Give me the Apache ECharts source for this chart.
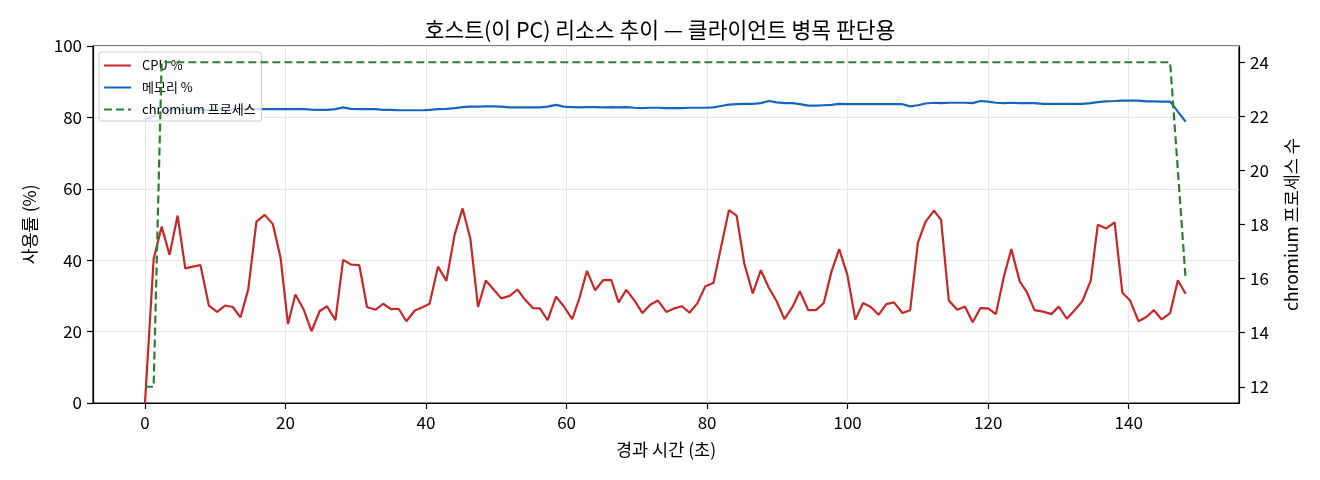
<!DOCTYPE html>
<html>
<head>
<meta charset="utf-8">
<script src="https://cdn.jsdelivr.net/npm/echarts@6/dist/echarts.min.js"></script>
<style>
  html, body { margin: 0; padding: 0; background: #fff; }
  #chart { width: 1320px; height: 480px; }
</style>
</head>
<body>
<div id="chart"></div>
<script>
// ---- data ----
const chartTitle = '호스트(이 PC) 리소스 추이 — 클라이언트 병목 판단용';
const xAxisName = '경과 시간 (초)';
const yLeftName = '사용률 (%)';
const yRightName = 'chromium 프로세스 수';
const seriesNames = ['CPU %', '메모리 %', 'chromium 프로세스'];

const xTicks = [0, 20, 40, 60, 80, 100, 120, 140];
const yLeftTicks = [0, 20, 40, 60, 80, 100];
const yRightTicks = [12, 14, 16, 18, 20, 22, 24];

const timeSec = [
  0.00, 1.23, 2.37, 3.50, 4.64, 5.73, 6.80, 7.90, 9.09, 10.27,
  11.40, 12.50, 13.60, 14.70, 15.86, 17.04, 18.20, 19.30, 20.35, 21.40,
  22.60, 23.70, 24.85, 25.90, 27.10, 28.20, 29.30, 30.50, 31.60, 32.80,
  33.90, 35.00, 36.10, 37.20, 38.40, 39.50, 40.50, 41.70, 42.90, 44.06,
  45.20, 46.30, 47.40, 48.50, 49.65, 50.70, 51.90, 53.00, 54.10, 55.20,
  56.20, 57.30, 58.50, 59.60, 60.80, 61.80, 62.90, 64.05, 65.20, 66.35,
  67.40, 68.50, 69.70, 70.80, 71.90, 73.00, 74.20, 75.30, 76.40, 77.50,
  78.60, 79.75, 80.90, 82.00, 83.10, 84.20, 85.30, 86.50, 87.65, 88.80,
  89.90, 91.00, 92.15, 93.20, 94.40, 95.50, 96.60, 97.70, 98.80, 99.96,
  101.10, 102.20, 103.30, 104.40, 105.50, 106.60, 107.80, 108.90, 110.00, 111.10,
  112.30, 113.30, 114.40, 115.60, 116.70, 117.80, 118.90, 120.00, 121.10, 122.25,
  123.30, 124.50, 125.50, 126.60, 127.80, 129.00, 130.05, 131.20, 132.30, 133.40,
  134.60, 135.60, 136.80, 138.00, 139.10, 140.20, 141.40, 142.50, 143.60, 144.70,
  145.90, 147.00, 148.10
];

const cpuPct = [
  0.0, 40.3, 49.4, 41.5, 52.5, 37.7, 38.2, 38.6, 27.3, 25.5,
  27.3, 26.9, 24.0, 31.9, 50.8, 52.7, 50.1, 40.6, 22.1, 30.4,
  26.1, 20.1, 25.7, 27.1, 23.2, 40.1, 38.8, 38.6, 26.9, 26.1,
  27.8, 26.3, 26.4, 22.9, 25.9, 26.8, 27.8, 38.2, 34.2, 47.1,
  54.5, 46.1, 26.9, 34.3, 31.7, 29.3, 30.0, 31.8, 28.9, 26.6,
  26.5, 23.2, 29.8, 27.1, 23.5, 29.2, 37.0, 31.6, 34.4, 34.5,
  28.2, 31.7, 28.6, 25.2, 27.5, 28.7, 25.5, 26.5, 27.1, 25.3,
  27.9, 32.7, 33.6, 43.8, 54.0, 52.5, 39.0, 30.7, 37.2, 32.2,
  28.5, 23.5, 26.9, 31.3, 26.0, 26.0, 28.0, 36.8, 43.1, 35.9,
  23.4, 28.0, 26.9, 24.7, 27.7, 28.2, 25.2, 26.0, 44.9, 50.8,
  53.9, 51.3, 28.7, 26.1, 27.0, 22.6, 26.6, 26.5, 24.9, 35.5,
  43.1, 34.0, 31.1, 26.0, 25.6, 24.9, 27.0, 23.6, 26.0, 28.5,
  34.3, 49.9, 48.9, 50.6, 30.9, 28.7, 22.9, 24.1, 26.0, 23.4,
  25.2, 34.4, 30.6
];

const memPct = [
  79.4, 80.3, 81.8, 82.0, 82.1, 82.1, 82.0, 82.1, 82.1, 82.2,
  82.2, 82.3, 82.3, 82.3, 82.3, 82.3, 82.3, 82.3, 82.3, 82.3,
  82.3, 82.2, 82.1, 82.1, 82.3, 82.8, 82.4, 82.3, 82.3, 82.3,
  82.1, 82.1, 82.0, 82.0, 82.0, 82.0, 82.1, 82.3, 82.4, 82.6,
  82.9, 83.0, 83.0, 83.1, 83.1, 83.0, 82.8, 82.8, 82.8, 82.8,
  82.8, 83.0, 83.5, 83.0, 82.9, 82.8, 82.9, 82.9, 82.8, 82.9,
  82.8, 82.9, 82.7, 82.6, 82.7, 82.7, 82.6, 82.6, 82.6, 82.7,
  82.7, 82.7, 82.8, 83.2, 83.6, 83.7, 83.8, 83.8, 84.0, 84.6,
  84.2, 84.0, 84.0, 83.7, 83.3, 83.3, 83.4, 83.5, 83.8, 83.7,
  83.7, 83.7, 83.7, 83.7, 83.7, 83.7, 83.7, 83.1, 83.4, 83.9,
  84.1, 84.0, 84.1, 84.1, 84.1, 84.0, 84.6, 84.4, 84.1, 84.0,
  84.1, 84.0, 84.0, 84.0, 83.8, 83.8, 83.8, 83.8, 83.8, 83.8,
  84.0, 84.3, 84.5, 84.6, 84.7, 84.7, 84.7, 84.5, 84.5, 84.4,
  84.4, 81.6, 78.8
];

const chromiumProcs = [
  12, 12, 24, 24, 24, 24, 24, 24, 24, 24,
  24, 24, 24, 24, 24, 24, 24, 24, 24, 24,
  24, 24, 24, 24, 24, 24, 24, 24, 24, 24,
  24, 24, 24, 24, 24, 24, 24, 24, 24, 24,
  24, 24, 24, 24, 24, 24, 24, 24, 24, 24,
  24, 24, 24, 24, 24, 24, 24, 24, 24, 24,
  24, 24, 24, 24, 24, 24, 24, 24, 24, 24,
  24, 24, 24, 24, 24, 24, 24, 24, 24, 24,
  24, 24, 24, 24, 24, 24, 24, 24, 24, 24,
  24, 24, 24, 24, 24, 24, 24, 24, 24, 24,
  24, 24, 24, 24, 24, 24, 24, 24, 24, 24,
  24, 24, 24, 24, 24, 24, 24, 24, 24, 24,
  24, 24, 24, 24, 24, 24, 24, 24, 24, 24,
  24, 20, 16
];

// ---- chart ----
const FONT = 'Noto Sans CJK KR';
const pair = (ys) => timeSec.map((t, i) => [t, ys[i]]);

const chart = echarts.init(document.getElementById('chart'), null, { renderer: 'canvas' });

const axisCommon = {
  axisLine: { show: true, onZero: false, lineStyle: { color: '#000', width: 1.2 } },
  axisTick: { show: true, length: 6, lineStyle: { color: '#000', width: 1.2 } },
  axisLabel: { color: '#000', fontFamily: FONT, fontSize: 17 },
  nameTextStyle: { color: '#000', fontFamily: FONT, fontSize: 17.5 }
};

chart.setOption({
  animation: false,
  backgroundColor: '#fff',
  textStyle: { fontFamily: FONT },
  title: {
    text: chartTitle,
    left: 'center',
    top: 14,
    textStyle: { fontFamily: FONT, fontSize: 21.5, fontWeight: 'normal', color: '#000' }
  },
  grid: {
    left: 93, right: 81, top: 46, bottom: 77,
    show: true, borderColor: '#000', borderWidth: 1.2, backgroundColor: 'transparent'
  },
  legend: {
    data: seriesNames,
    orient: 'vertical',
    left: 99,
    top: 52,
    z: 3,
    itemWidth: 27,
    itemHeight: 14,
    itemGap: 9,
    padding: [7, 6, 5, 4],
    backgroundColor: 'rgba(255,255,255,0.8)',
    borderColor: '#cccccc',
    borderWidth: 1,
    borderRadius: 3,
    itemStyle: { opacity: 0 },
    textStyle: { fontFamily: FONT, fontSize: 13, color: '#000', padding: [0, 0, 0, 6] }
  },
  xAxis: {
    type: 'value',
    min: -7.4,
    max: 155.7,
    name: xAxisName,
    nameLocation: 'middle',
    nameGap: 38,
    ...axisCommon,
    axisTick: { ...axisCommon.axisTick, customValues: xTicks },
    axisLabel: { ...axisCommon.axisLabel, margin: 11, customValues: xTicks },
    splitLine: { show: true, lineStyle: { color: '#e6e6e6', width: 1 } }
  },
  yAxis: [
    {
      type: 'value',
      position: 'left',
      min: 0,
      max: 100,
      interval: 20,
      name: yLeftName,
      nameLocation: 'middle',
      nameGap: 55,
      nameRotate: 90,
      ...axisCommon,
      axisTick: { ...axisCommon.axisTick, customValues: yLeftTicks },
      axisLabel: { ...axisCommon.axisLabel, margin: 11, customValues: yLeftTicks },
      splitLine: { show: true, lineStyle: { color: '#e6e6e6', width: 1 } }
    },
    {
      type: 'value',
      position: 'right',
      min: 11.4,
      max: 24.6,
      name: yRightName,
      nameLocation: 'middle',
      nameGap: 44,
      nameRotate: 90,
      ...axisCommon,
      axisTick: { ...axisCommon.axisTick, customValues: yRightTicks },
      axisLabel: { ...axisCommon.axisLabel, margin: 11, customValues: yRightTicks },
      splitLine: { show: false }
    }
  ],
  series: [
    {
      name: seriesNames[0],
      type: 'line',
      yAxisIndex: 0,
      data: pair(cpuPct),
      symbol: 'none',
      showSymbol: false,
      z: 2,
      color: '#c62828',
      lineStyle: { color: '#c62828', width: 2.2 }
    },
    {
      name: seriesNames[1],
      type: 'line',
      yAxisIndex: 0,
      data: pair(memPct),
      symbol: 'none',
      showSymbol: false,
      z: 2,
      color: '#1565c0',
      lineStyle: { color: '#1565c0', width: 2.2 }
    },
    {
      name: seriesNames[2],
      type: 'line',
      yAxisIndex: 1,
      data: pair(chromiumProcs),
      symbol: 'none',
      showSymbol: false,
      z: 5,
      color: '#2e7d32',
      lineStyle: { color: '#2e7d32', width: 2.2, type: [8, 4] }
    }
  ]
});
</script>
</body>
</html>
